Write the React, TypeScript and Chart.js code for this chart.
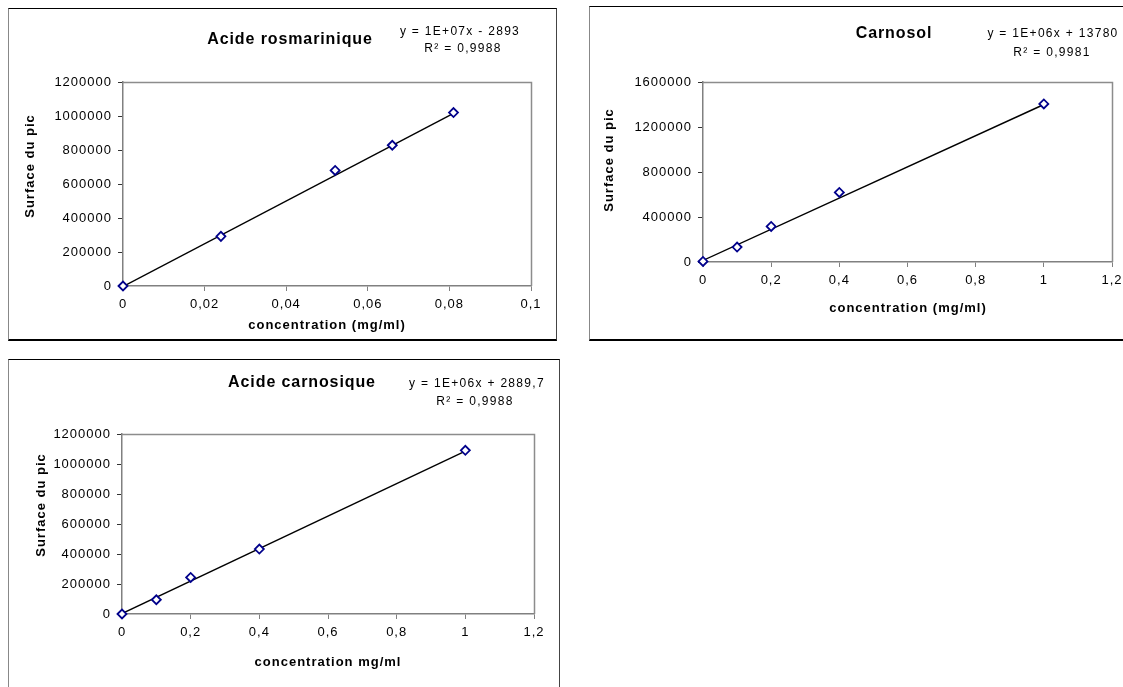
import React, { useEffect, useRef } from "react";
import { Chart, registerables } from "chart.js";

Chart.register(...registerables);

// ---------- Acide rosmarinique ----------
const rosConc = [0, 0.024, 0.052, 0.066, 0.081];
const rosArea = [0, 292000, 680000, 828000, 1020000];
const rosTrendConc = [0, 0.081];
const rosTrendArea = [-2893, 1016000];
const rosXTicks = [0, 0.02, 0.04, 0.06, 0.08, 0.1];
const rosXLabels = ["0", "0,02", "0,04", "0,06", "0,08", "0,1"];
const rosYTicks = [0, 200000, 400000, 600000, 800000, 1000000, 1200000];
const rosYLabels = ["0", "200000", "400000", "600000", "800000", "1000000", "1200000"];

// ---------- Carnosol ----------
const carConc = [0, 0.1, 0.2, 0.4, 1];
const carArea = [5000, 133000, 316000, 618000, 1405000];
const carTrendConc = [0, 1];
const carTrendArea = [13780, 1400000];
const carXTicks = [0, 0.2, 0.4, 0.6, 0.8, 1, 1.2];
const carXLabels = ["0", "0,2", "0,4", "0,6", "0,8", "1", "1,2"];
const carYTicks = [0, 400000, 800000, 1200000, 1600000];
const carYLabels = ["0", "400000", "800000", "1200000", "1600000"];

// ---------- Acide carnosique ----------
const acConc = [0, 0.1, 0.2, 0.4, 1];
const acArea = [0, 95000, 244000, 433000, 1091000];
const acTrendConc = [0, 1];
const acTrendArea = [2890, 1086000];
const acXTicks = [0, 0.2, 0.4, 0.6, 0.8, 1, 1.2];
const acXLabels = ["0", "0,2", "0,4", "0,6", "0,8", "1", "1,2"];
const acYTicks = [0, 200000, 400000, 600000, 800000, 1000000, 1200000];
const acYLabels = ["0", "200000", "400000", "600000", "800000", "1000000", "1200000"];

const FONT = "'Liberation Sans', Arial, sans-serif";

type Spec = {
  title: string;
  eq1: string;
  eq2: string;
  xTitle: string;
  yTitle: string;
  x: number[];
  y: number[];
  tx: number[];
  ty: number[];
  xTicks: number[];
  xLabels: string[];
  yTicks: number[];
  yLabels: string[];
  frame: { left: number; top: number; w: number; h: number };
  plot: { left: number; top: number; right: number; bottom: number };
  titlePos: [number, number];
  eq1Pos: [number, number];
  eq2Pos: [number, number];
  xTitlePos: [number, number];
  yTitlePos: [number, number];
};

const specs: Spec[] = [
  {
    title: "Acide rosmarinique",
    eq1: "y = 1E+07x - 2893",
    eq2: "R² = 0,9988",
    xTitle: "concentration (mg/ml)",
    yTitle: "Surface du pic",
    x: rosConc, y: rosArea, tx: rosTrendConc, ty: rosTrendArea,
    xTicks: rosXTicks, xLabels: rosXLabels, yTicks: rosYTicks, yLabels: rosYLabels,
    frame: { left: 8, top: 8, w: 547, h: 330 },
    plot: { left: 114, top: 73, right: 522, bottom: 277 },
    titlePos: [281, 31],
    eq1Pos: [451, 23],
    eq2Pos: [454, 40],
    xTitlePos: [318, 316],
    yTitlePos: [21, 157],
  },
  {
    title: "Carnosol",
    eq1: "y = 1E+06x + 13780",
    eq2: "R² = 0,9981",
    xTitle: "concentration (mg/ml)",
    yTitle: "Surface du pic",
    x: carConc, y: carArea, tx: carTrendConc, ty: carTrendArea,
    xTicks: carXTicks, xLabels: carXLabels, yTicks: carYTicks, yLabels: carYLabels,
    frame: { left: 589, top: 6, w: 548, h: 332 },
    plot: { left: 113, top: 75, right: 522, bottom: 255 },
    titlePos: [304, 27],
    eq1Pos: [463, 27],
    eq2Pos: [462, 46],
    xTitlePos: [318, 301],
    yTitlePos: [19, 153],
  },
  {
    title: "Acide carnosique",
    eq1: "y = 1E+06x + 2889,7",
    eq2: "R² = 0,9988",
    xTitle: "concentration mg/ml",
    yTitle: "Surface du pic",
    x: acConc, y: acArea, tx: acTrendConc, ty: acTrendArea,
    xTicks: acXTicks, xLabels: acXLabels, yTicks: acYTicks, yLabels: acYLabels,
    frame: { left: 8, top: 359, w: 550, h: 330 },
    plot: { left: 113, top: 74, right: 525, bottom: 254 },
    titlePos: [293, 23],
    eq1Pos: [468, 24],
    eq2Pos: [466, 42],
    xTitlePos: [319, 302],
    yTitlePos: [32, 145],
  },
];

function Panel({ spec }: { spec: Spec }) {
  const ref = useRef<HTMLCanvasElement>(null);

  useEffect(() => {
    const canvas = ref.current;
    if (!canvas) return;
    const W = spec.frame.w;
    const H = spec.frame.h;
    const p = spec.plot;

    const decor = {
      id: "decor",
      beforeDraw(chart: any) {
        chart.ctx.letterSpacing = "1px";
      },
      afterDraw(chart: any) {
        const ctx = chart.ctx as CanvasRenderingContext2D;
        const a = chart.chartArea;
        ctx.save();
        ctx.strokeStyle = "#8c8c8c";
        ctx.lineWidth = 1.5;
        ctx.beginPath();
        ctx.moveTo(a.left, a.top + 0.5);
        ctx.lineTo(a.right + 0.5, a.top + 0.5);
        ctx.lineTo(a.right + 0.5, a.bottom);
        ctx.stroke();

        ctx.fillStyle = "#000";
        ctx.textBaseline = "middle";
        ctx.textAlign = "center";

        (ctx as any).letterSpacing = "0.9px";
        ctx.font = `bold 16px ${FONT}`;
        ctx.fillText(spec.title, spec.titlePos[0], spec.titlePos[1]);

        (ctx as any).letterSpacing = "1.3px";
        ctx.font = `12px ${FONT}`;
        ctx.fillText(spec.eq1, spec.eq1Pos[0], spec.eq1Pos[1]);
        ctx.fillText(spec.eq2, spec.eq2Pos[0], spec.eq2Pos[1]);

        (ctx as any).letterSpacing = "1px";
        ctx.font = `bold 13px ${FONT}`;
        ctx.fillText(spec.xTitle, spec.xTitlePos[0], spec.xTitlePos[1]);

        ctx.translate(spec.yTitlePos[0], spec.yTitlePos[1]);
        ctx.rotate(-Math.PI / 2);
        ctx.fillText(spec.yTitle, 0, 0);
        ctx.restore();
      },
    };

    const tickFont = { family: FONT, size: 13 };

    const chart = new Chart(canvas, {
      type: "scatter",
      data: {
        datasets: [
          {
            data: spec.x.map((x, i) => ({ x, y: spec.y[i] })),
            pointStyle: "rectRot",
            pointRadius: 4.5,
            pointBorderColor: "#00008b",
            pointBackgroundColor: "#ffffff",
            pointBorderWidth: 1.8,
            clip: false,
            order: 0,
          } as any,
          {
            data: spec.tx.map((x, i) => ({ x, y: spec.ty[i] })),
            showLine: true,
            borderColor: "#000000",
            borderWidth: 1.4,
            pointRadius: 0,
            fill: false,
            order: 1,
          } as any,
        ],
      },
      options: {
        animation: false,
        responsive: false,
        devicePixelRatio: 1,
        events: [],
        layout: { padding: { left: 0, top: p.top, right: W - p.right, bottom: 0 } },
        plugins: { legend: { display: false }, tooltip: { enabled: false } },
        scales: {
          x: {
            type: "linear",
            min: spec.xTicks[0],
            max: spec.xTicks[spec.xTicks.length - 1],
            afterBuildTicks: (s: any) => {
              s.ticks = spec.xTicks.map((v) => ({ value: v }));
            },
            afterFit: (s: any) => {
              s.height = H - p.bottom;
            },
            ticks: {
              callback: (_v: any, i: number) => spec.xLabels[i],
              autoSkip: false,
              maxRotation: 0,
              minRotation: 0,
              padding: 6,
              color: "#000",
              font: tickFont,
            },
            grid: { drawOnChartArea: false, drawTicks: true, tickLength: 5, color: "#808080" },
            border: { display: true, color: "#808080", width: 1.5 },
          },
          y: {
            type: "linear",
            min: spec.yTicks[0],
            max: spec.yTicks[spec.yTicks.length - 1],
            afterBuildTicks: (s: any) => {
              s.ticks = spec.yTicks.map((v) => ({ value: v }));
            },
            afterFit: (s: any) => {
              s.width = p.left;
            },
            ticks: {
              callback: (_v: any, i: number) => spec.yLabels[i],
              padding: 6,
              color: "#000",
              font: tickFont,
            },
            grid: { drawOnChartArea: false, drawTicks: true, tickLength: 5, color: "#333" },
            border: { display: true, color: "#808080", width: 1.5 },
          },
        },
      } as any,
      plugins: [decor],
    });

    return () => chart.destroy();
  }, [spec]);

  return (
    <div
      style={{
        position: "absolute",
        left: spec.frame.left,
        top: spec.frame.top,
        borderTop: "1px solid #000",
        borderLeft: "1px solid #888",
        borderRight: "1px solid #444",
        borderBottom: "2px solid #000",
        background: "#fff",
      }}
    >
      <canvas
        ref={ref}
        width={spec.frame.w}
        height={spec.frame.h}
        style={{ display: "block", width: spec.frame.w, height: spec.frame.h }}
      />
    </div>
  );
}

export default function App() {
  return (
    <div
      style={{
        position: "fixed",
        left: 0,
        top: 0,
        width: 1123,
        height: 687,
        overflow: "hidden",
        background: "#fff",
      }}
    >
      {specs.map((s) => (
        <Panel key={s.title} spec={s} />
      ))}
    </div>
  );
}
